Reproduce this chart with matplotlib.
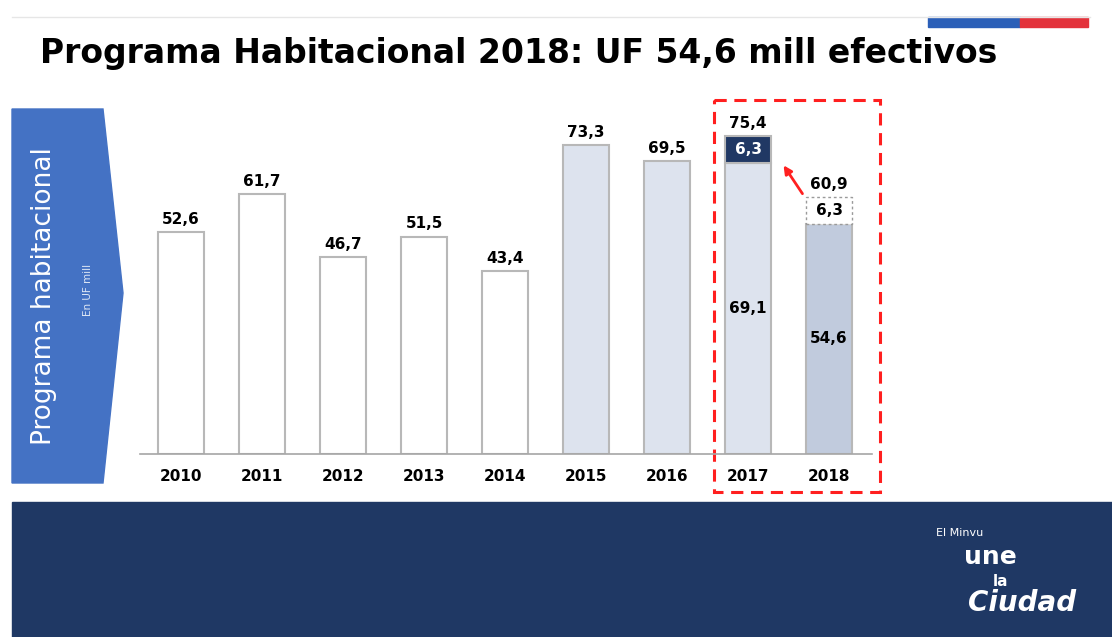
import matplotlib.pyplot as plt
from matplotlib.patches import Rectangle, Polygon, FancyArrowPatch

# datos (UF millones)
anios = ['2010', '2011', '2012', '2013', '2014', '2015', '2016', '2017', '2018']
base = [52.6, 61.7, 46.7, 51.5, 43.4, 73.3, 69.5, 69.1, 54.6]
extra = [0, 0, 0, 0, 0, 0, 0, 6.3, 6.3]
etiq_base = ['52,6', '61,7', '46,7', '51,5', '43,4', '73,3', '69,5', '69,1', '54,6']
etiq_total = ['', '', '', '', '', '', '', '75,4', '60,9']

fig = plt.figure(figsize=(11.12, 6.37), dpi=100, facecolor='white')

# fondo: franja inferior, flecha azul, bandera
bg = fig.add_axes([0, 0, 1, 1])
bg.set_xlim(0, 1112)
bg.set_ylim(637, 0)
bg.axis('off')
bg.add_patch(Rectangle((12, 502), 1100, 135, color='#1f3864'))
bg.add_patch(Polygon([(12, 109), (103, 109), (123, 293), (103, 483), (12, 483)],
                     closed=True, color='#4472c4'))
bg.add_patch(Rectangle((928, 17), 92, 10, color='#2b5fb8'))
bg.add_patch(Rectangle((1020, 17), 68, 10, color='#e3323b'))
bg.plot([12, 1090], [17, 17], color='#e6e6e6', lw=1)
bg.text(40, 53, 'Programa Habitacional 2018: UF 54,6 mill efectivos',
        fontsize=23.8, fontweight='bold', va='center', ha='left', color='black')
bg.text(44, 296, 'Programa habitacional', rotation=90, color='white',
        fontsize=19, va='center', ha='center')
bg.text(88, 290, 'En UF mill', rotation=90, color='#dde6f5',
        fontsize=7.5, va='center', ha='center')
# logo
bg.text(960, 533, 'El Minvu', color='white', fontsize=8, va='center', ha='center')
bg.text(990, 557, 'une', color='white', fontsize=18, fontweight='bold', va='center', ha='center')
bg.text(1000, 581, 'la', color='white', fontsize=11, fontweight='bold', va='center', ha='center')
bg.text(1022, 603, 'Ciudad', color='white', fontsize=20, style='italic',
        fontweight='bold', va='center', ha='center')

# recuadro rojo y flecha
bg.add_patch(Rectangle((714, 100), 166, 392, fill=False, ec='#ff1f1f',
                       lw=2.2, ls=(0, (4, 2.5))))
bg.add_patch(FancyArrowPatch((804, 196), (782, 163), arrowstyle='-|>', mutation_scale=12,
                             color='#ff2020', lw=2))

ax = fig.add_axes([140 / 1112, (637 - 454) / 637, 732 / 1112, 354 / 637])
ax.patch.set_alpha(0)
x = list(range(len(anios)))
colores = ['white'] * 5 + ['#dde3ee'] * 3 + ['#c1cbdd']
ax.bar(x, base, width=0.57, color=colores, edgecolor='#b8b8b8', linewidth=1.5)
ax.bar(x[7], extra[7], bottom=base[7], width=0.57, color='#203864',
       edgecolor='#b8b8b8', linewidth=1.5)
ax.bar(x[8], extra[8], bottom=base[8], width=0.57, color='white',
       edgecolor='#9a9a9a', linewidth=1, linestyle=(0, (2, 2)))

for i in range(len(anios)):
    if extra[i] == 0:
        ax.text(x[i], base[i] + 1.3, etiq_base[i], ha='center', va='bottom',
                fontsize=11, fontweight='bold')
    else:
        ax.text(x[i], base[i] / 2, etiq_base[i], ha='center', va='center',
                fontsize=11, fontweight='bold')
        col = 'white' if i == 7 else 'black'
        ax.text(x[i], base[i] + extra[i] / 2, '6,3', ha='center', va='center',
                fontsize=11, fontweight='bold', color=col)
        ax.text(x[i], base[i] + extra[i] + 1.3, etiq_total[i], ha='center',
                va='bottom', fontsize=11, fontweight='bold')

ax.set_xlim(-0.506, 8.53)
ax.set_ylim(0, 84)
ax.set_xticks(x)
ax.set_xticklabels(anios, fontsize=11, fontweight='bold')
ax.tick_params(axis='x', length=0, pad=11)
ax.set_yticks([])
for s in ['top', 'right', 'left']:
    ax.spines[s].set_visible(False)
ax.spines['bottom'].set_color('#a6a6a6')
ax.spines['bottom'].set_linewidth(1.2)

fig.savefig('out.png', dpi=100)
